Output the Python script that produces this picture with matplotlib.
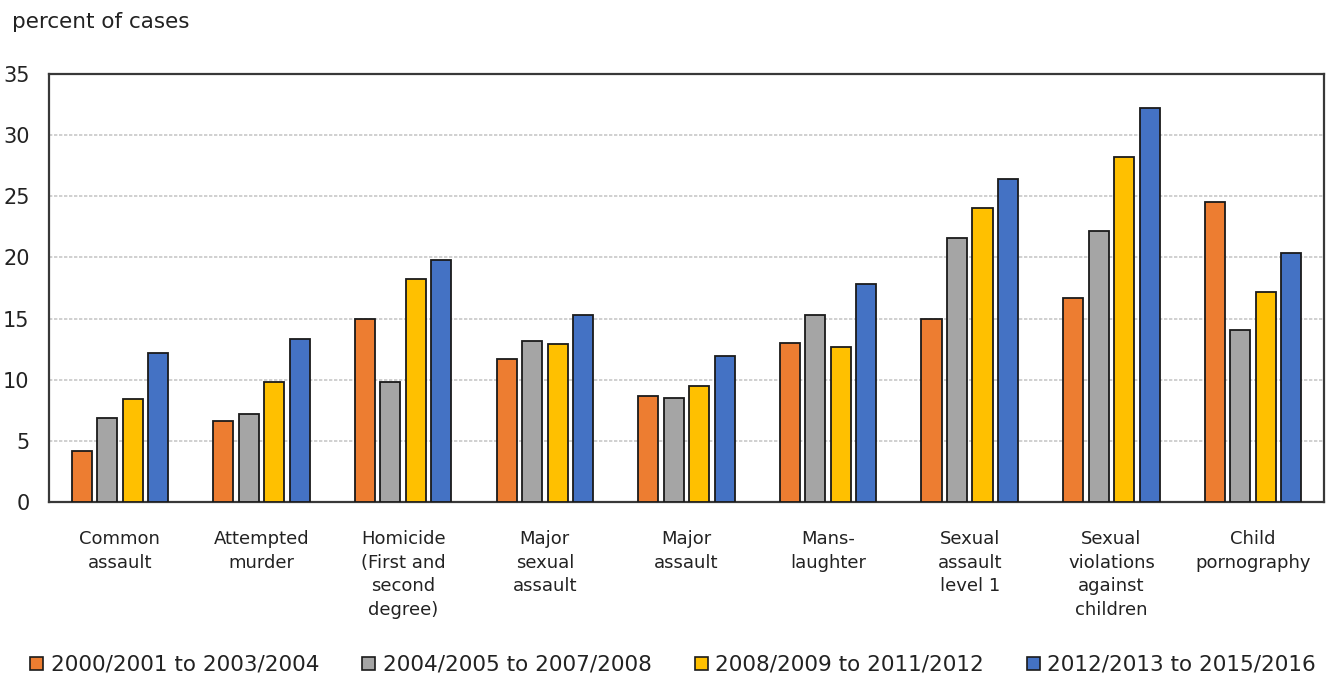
import numpy as np
import matplotlib
matplotlib.use("Agg")
import matplotlib.pyplot as plt
from matplotlib.patches import Patch

# categories and series
categories = [
    "Common\nassault",
    "Attempted\nmurder",
    "Homicide\n(First and\nsecond\ndegree)",
    "Major\nsexual\nassault",
    "Major\nassault",
    "Mans-\nlaughter",
    "Sexual\nassault\nlevel 1",
    "Sexual\nviolations\nagainst\nchildren",
    "Child\npornography",
]
series_names = [
    "2000/2001 to 2003/2004",
    "2004/2005 to 2007/2008",
    "2008/2009 to 2011/2012",
    "2012/2013 to 2015/2016",
]
p2000 = [4.2, 6.6, 15.0, 11.7, 8.7, 13.0, 15.0, 16.7, 24.5]
p2004 = [6.9, 7.2, 9.8, 13.2, 8.5, 15.3, 21.6, 22.2, 14.1]
p2008 = [8.4, 9.8, 18.2, 12.9, 9.5, 12.7, 24.0, 28.2, 17.2]
p2012 = [12.2, 13.3, 19.8, 15.3, 11.9, 17.8, 26.4, 32.2, 20.4]
yticks = [0, 5, 10, 15, 20, 25, 30, 35]

colors = ["#ED7D31", "#A5A5A5", "#FFC000", "#4472C4"]
plt.rcParams["font.family"] = ["DejaVu Sans"]
txt = "#222222"

fig = plt.figure(figsize=(13.33, 6.82), dpi=100)
ax = fig.add_axes([0.0368, 0.264, 0.9564, 0.6275])

x = np.arange(len(categories)) + 0.5
step = 0.18
width = 0.142
for i, vals in enumerate([p2000, p2004, p2008, p2012]):
    ax.bar(x + (i - 1.5) * step, vals, width=width, color=colors[i],
           edgecolor="#1a1a1a", linewidth=1.3, zorder=3)

ax.set_xlim(0, len(categories))
ax.set_ylim(0, 35)
ax.set_yticks(yticks)
ax.set_xticks(x)
ax.set_xticklabels(categories, fontsize=13, color=txt, linespacing=1.42)
ax.tick_params(axis="y", length=0, pad=14, labelsize=15, labelcolor=txt)
ax.tick_params(axis="x", length=0, pad=20)
ax.yaxis.grid(True, color="#c8c8c8", linestyle=(0, (2, 1)), linewidth=1.2, zorder=0)
for s in ax.spines.values():
    s.set_color("#383838")
    s.set_linewidth(1.6)

fig.text(12 / 1333, 1 - 22 / 682, "percent of cases", fontsize=15.5,
         color=txt, va="center", ha="left")

handles = [Patch(facecolor=c, edgecolor="#1a1a1a", linewidth=1.2) for c in colors]
fig.legend(handles, series_names, loc="center", bbox_to_anchor=(0.505, 0.025),
           ncol=4, frameon=False, fontsize=15.5, handlelength=0.6, handleheight=0.6,
           handletextpad=0.35, columnspacing=2.0, borderaxespad=0, labelcolor=txt)

fig.savefig("out.png", dpi=100)
